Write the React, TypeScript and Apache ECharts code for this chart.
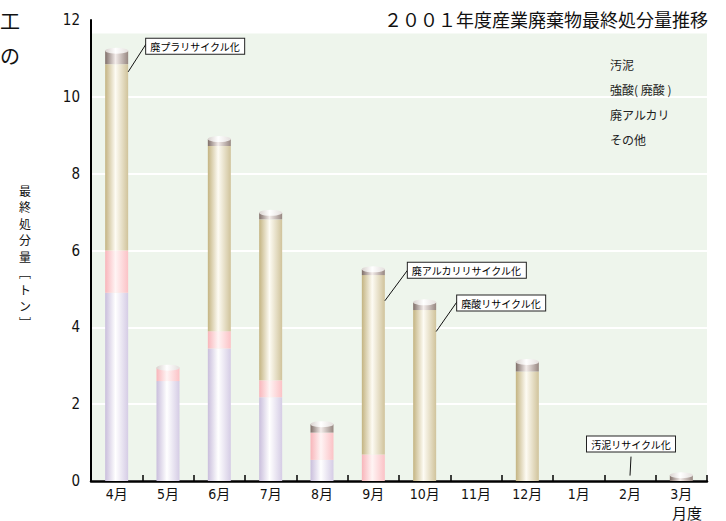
import { useEffect, useRef } from 'react';
import * as echarts from 'echarts';

// Fiscal-year months (April to March)
const months = ['4月', '5月', '6月', '7月', '8月', '9月', '10月', '11月', '12月', '1月', '2月', '3月'];

// Final disposal amount per waste type [t]
const sludge = [4.9, 2.6, 3.45, 2.18, 0.55, 0, 0, 0, 0, 0, 0, 0];
const strongAcid = [1.1, 0.35, 0.45, 0.44, 0.71, 0.69, 0, 0, 0, 0, 0, 0];
const wasteAlkali = [4.85, 0, 4.82, 4.19, 0, 4.67, 4.45, 0, 2.85, 0, 0, 0];
const others = [0.35, 0, 0.18, 0.17, 0.22, 0.15, 0.2, 0, 0.25, 0, 0, 0.15];

const seriesNames = ['汚泥', '強酸( 廃酸 )', '廃アルカリ', 'その他'];
const yTicks = { min: 0, max: 12, interval: 2 };

// Recycling notes and the point on the bar they refer to
const calloutTexts = ['廃プラリサイクル化', '廃アルカリリサイクル化', '廃酸リサイクル化', '汚泥リサイクル化'];
const calloutMonths = ['4月', '9月', '10月', '2月'];
const calloutValues = [10.65, 4.69, 3.89, 0.14];

// Layout of the callouts: leader direction and label box placement
const calloutLayout = [
  { edge: 1, lx: 18, ly: -28, align: 'left', boxDy: -5 },
  { edge: 1, lx: 23, ly: -31, align: 'left', boxDy: -7 },
  { edge: 1, lx: 21, ly: -30, align: 'left', boxDy: -6 },
  { edge: 0, lx: 1, ly: -19, align: 'center', boxDy: -20 },
];

const W = 726;
const H = 521;
const GRID = { left: 91, right: 19, top: 20, bottom: 40 };
const BAR_W = 23;
const BG_TOP_VALUE = 11.65;
const JP = '"Noto Sans CJK JP", sans-serif';
const NUM = '"Liberation Sans Narrow", "DejaVu Sans Condensed", "Noto Sans CJK JP", sans-serif';

const cylinder = (left: string, mid: string, right: string) =>
  new echarts.graphic.LinearGradient(0, 0, 1, 0, [
    { offset: 0, color: left },
    { offset: 0.45, color: mid },
    { offset: 1, color: right },
  ]);

export default function App() {
  const ref = useRef<HTMLDivElement>(null);

  useEffect(() => {
    const chart = echarts.init(ref.current!, null, { renderer: 'svg' });

    const stacks = [sludge, strongAcid, wasteAlkali, others];
    const fills = [
      cylinder('#c9bedc', '#ffffff', '#d5cce5'),
      cylinder('#f8b5ba', '#fff4f4', '#fbc2c6'),
      cylinder('#c4b482', '#fdfbf3', '#d0c39b'),
      cylinder('#806f69', '#f3ecea', '#978781'),
    ];
    const totals = months.map((_, i) => stacks.reduce((s, arr) => s + arr[i], 0));

    const barSeries = stacks.map((arr, k) => ({
      name: seriesNames[k],
      type: 'bar',
      stack: 'total',
      barWidth: BAR_W,
      data: arr.map((v) => (v > 0 ? v : '-')),
      itemStyle: { color: fills[k] },
      emphasis: { disabled: true },
      z: 2,
    }));

    chart.setOption({
      animation: false,
      backgroundColor: '#ffffff',
      grid: { ...GRID, containLabel: false },
      legend: {
        data: seriesNames,
        orient: 'vertical',
        left: 600,
        top: 52,
        icon: 'none',
        itemWidth: 0,
        itemHeight: 14,
        itemGap: 12,
        selectedMode: false,
        textStyle: { fontFamily: JP, fontSize: 12, color: '#222' },
      },
      xAxis: {
        type: 'category',
        data: months,
        boundaryGap: true,
        axisLine: { lineStyle: { color: '#000', width: 2.5 } },
        axisTick: { show: true, inside: true, length: 6, interval: 0, lineStyle: { color: '#000', width: 1.5 } },
        axisLabel: { interval: 0, fontFamily: NUM, fontSize: 14, color: '#111', margin: 6 },
        splitLine: { show: false },
      },
      yAxis: {
        type: 'value',
        ...yTicks,
        axisLine: { show: true, lineStyle: { color: '#000', width: 2 } },
        axisTick: { show: false },
        axisLabel: { fontFamily: NUM, fontSize: 15, color: '#111', margin: 11 },
        splitLine: { show: true, lineStyle: { color: '#ffffff', width: 2 } },
      },
      series: [
        ...barSeries,
        {
          name: 'cap',
          type: 'pictorialBar',
          symbol: 'circle',
          symbolSize: [BAR_W, 6],
          symbolPosition: 'end',
          symbolOffset: [0, '-50%'],
          data: totals.map((t) => (t > 0 ? t : '-')),
          itemStyle: { color: cylinder('#d9d2cf', '#ffffff', '#e4dfdd') },
          emphasis: { disabled: true },
          z: 3,
        },
      ],
    });

    // Plot background and callouts placed through the axes' scales
    const y0 = chart.convertToPixel({ yAxisIndex: 0 }, 0) as number;
    const yBg = chart.convertToPixel({ yAxisIndex: 0 }, BG_TOP_VALUE) as number;

    const graphics: any[] = [
      {
        type: 'rect',
        z: -5,
        silent: true,
        shape: { x: GRID.left, y: yBg, width: W - GRID.left - GRID.right, height: y0 - yBg },
        style: { fill: '#eef5ec' },
      },
      {
        type: 'text',
        style: {
          text: '２００１年度産業廃棄物最終処分量推移',
          x: 708,
          y: 19,
          align: 'right',
          verticalAlign: 'middle',
          font: `18px ${JP}`,
          fill: '#111',
        },
      },
      {
        type: 'text',
        style: {
          text: '最\n終\n処\n分\n量\n﹇\nト\nン\n﹈',
          x: 25,
          y: 256,
          align: 'center',
          verticalAlign: 'middle',
          font: `12px ${JP}`,
          lineHeight: 16.5,
          fill: '#111',
        },
      },
      {
        type: 'text',
        style: { text: '月度', x: 687, y: 512, align: 'center', verticalAlign: 'middle', font: `15px ${JP}`, fill: '#111' },
      },
      {
        type: 'text',
        style: { text: '工', x: 0, y: 20, align: 'left', verticalAlign: 'middle', font: `20px ${JP}`, fill: '#111' },
      },
      {
        type: 'text',
        style: { text: 'の', x: 0, y: 55, align: 'left', verticalAlign: 'middle', font: `20px ${JP}`, fill: '#111' },
      },
    ];

    calloutTexts.forEach((text, i) => {
      const lay = calloutLayout[i];
      const p = chart.convertToPixel({ xAxisIndex: 0, yAxisIndex: 0 }, [calloutMonths[i], calloutValues[i]]) as number[];
      const ax = p[0] + lay.edge * (BAR_W / 2);
      const ay = p[1];
      const ex = ax + lay.lx;
      const ey = ay + lay.ly;
      graphics.push({
        type: 'line',
        z: 10,
        shape: { x1: ax, y1: ay, x2: ex, y2: ey },
        style: { stroke: '#111', lineWidth: 1 },
      });
      graphics.push({
        type: 'text',
        z: 11,
        style: {
          text,
          x: ex,
          y: ey + lay.boxDy,
          align: lay.align,
          verticalAlign: 'top',
          font: `10px ${JP}`,
          lineHeight: 11,
          fill: '#000',
          backgroundColor: '#ffffff',
          borderColor: '#222',
          borderWidth: 1,
          padding: [2, 4, 2, 4],
        },
      });
    });

    chart.setOption({ graphic: graphics });

    return () => chart.dispose();
  }, []);

  return <div ref={ref} style={{ position: 'fixed', left: 0, top: 0, width: W, height: H }} />;
}
